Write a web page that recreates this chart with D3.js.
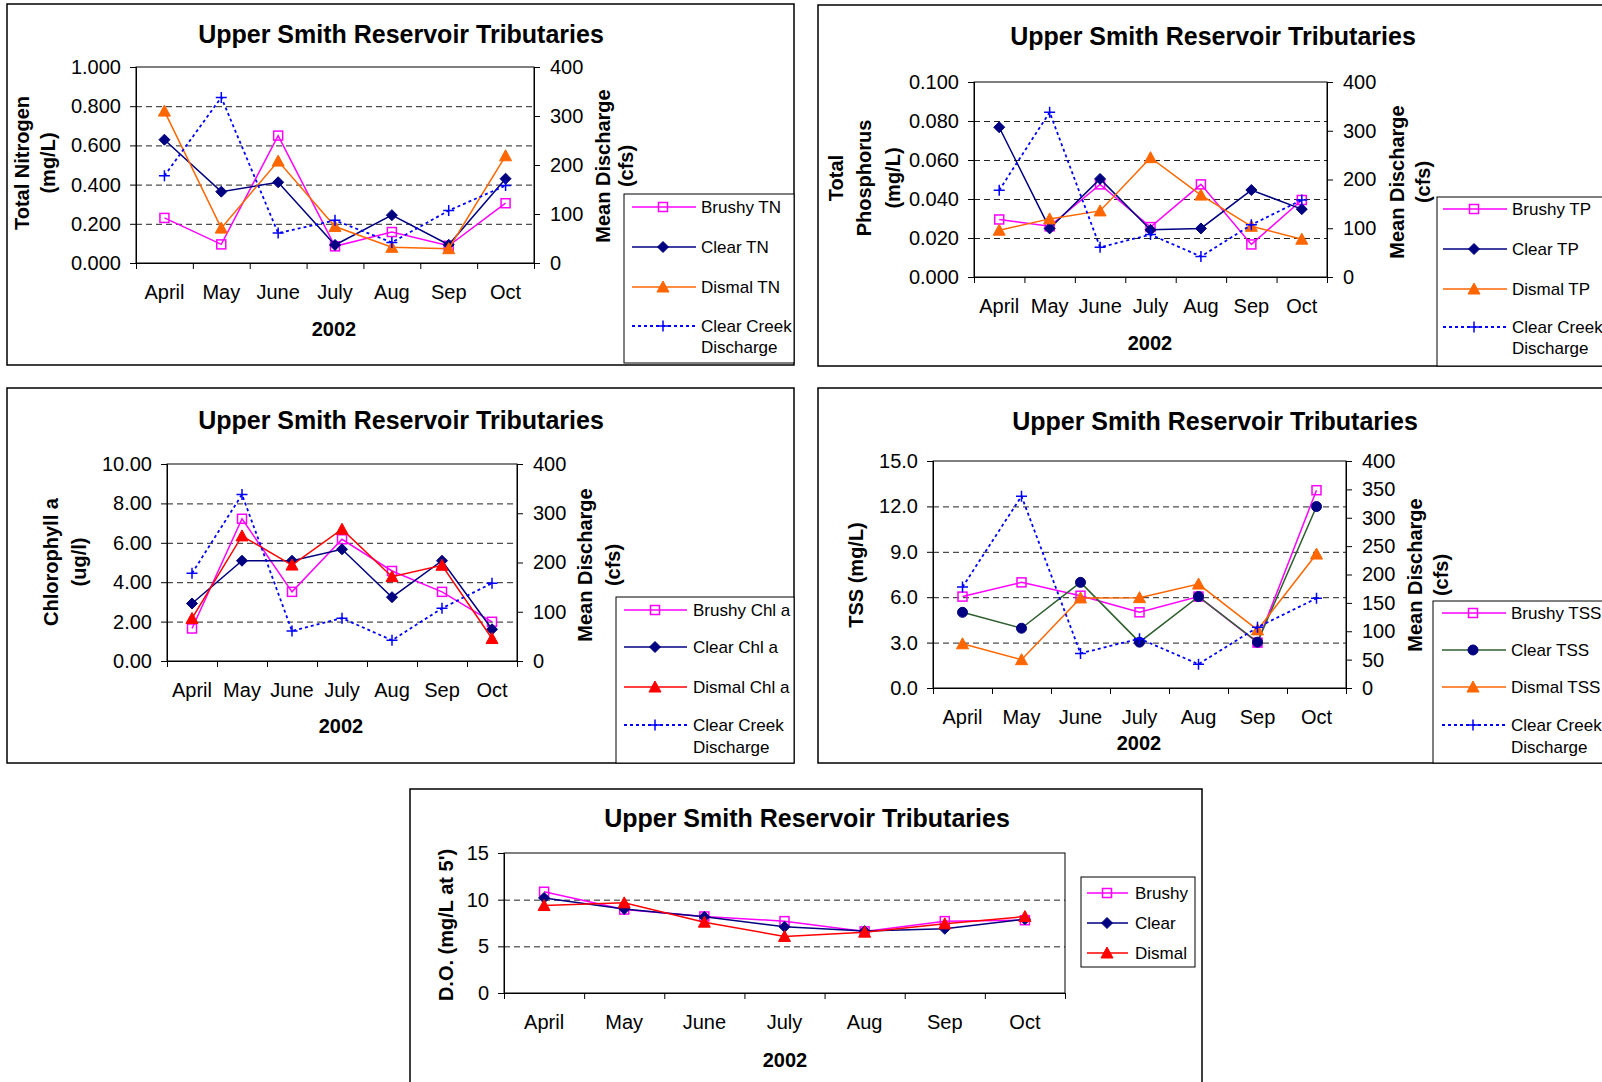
<!DOCTYPE html>
<html>
<head>
<meta charset="utf-8">
<script src="https://cdn.jsdelivr.net/npm/d3@7"></script>
<style>
  body { margin: 0; background: #fff; }
  svg text { font-family: Arial, "Liberation Sans", sans-serif; fill: #000; }
</style>
</head>
<body>
<div id="chart"></div>
<script>
// categories
const months = ["April", "May", "June", "July", "Aug", "Sep", "Oct"];

// Clear Creek mean discharge (cfs), shared by the first four charts
const discharge = [178, 338, 61, 87, 42, 107, 158];

// Total nitrogen (mg/L)
const brushyTN = [0.23, 0.095, 0.65, 0.085, 0.158, 0.088, 0.305];
const clearTN = [0.629, 0.364, 0.412, 0.092, 0.244, 0.093, 0.43];
const dismalTN = [0.775, 0.178, 0.52, 0.186, 0.08, 0.073, 0.547];

// Total phosphorus (mg/L)
const brushyTP = [0.0295, 0.026, 0.0475, 0.0256, 0.0475, 0.0167, 0.0395];
const clearTP = [0.0768, 0.0249, 0.0503, 0.0242, 0.0249, 0.0446, 0.0348];
const dismalTP = [0.024, 0.0298, 0.0339, 0.0612, 0.042, 0.026, 0.0194];

// Chlorophyll a (ug/l)
const brushyChl = [1.65, 7.22, 3.51, 6.18, 4.57, 3.51, 1.99];
const clearChl = [2.92, 5.09, 5.09, 5.67, 3.24, 5.09, 1.61];
const dismalChl = [2.16, 6.35, 4.87, 6.69, 4.28, 4.86, 1.14];

// TSS (mg/L)
const brushyTSS = [6.04, 6.98, 6.1, 5.0, 6.04, 3.0, 13.07];
const clearTSS = [5.0, 3.95, 6.98, 3.03, 6.04, 3.03, 11.99];
const dismalTSS = [2.92, 1.87, 5.95, 5.97, 6.87, 3.84, 8.85];

// D.O. (mg/L at 5')
const brushyDO = [10.85, 8.94, 8.2, 7.7, 6.6, 7.7, 7.8];
const clearDO = [10.19, 9.01, 8.16, 7.09, 6.63, 6.88, 7.91];
const dismalDO = [9.37, 9.66, 7.59, 6.06, 6.52, 7.41, 8.19];

const title = "Upper Smith Reservoir Tributaries";

const svg = d3.select('#chart').append('svg')
  .attr('width', 1602)
  .attr('height', 1082);

// marker shapes
const markers = {
  square: g => g.append('rect').attr('x', -4.5).attr('y', -4.5).attr('width', 9).attr('height', 9)
    .attr('fill', 'none').attr('stroke-width', 1.5),
  diamond: g => g.append('path').attr('d', 'M0,-5.5L5.5,0L0,5.5L-5.5,0Z'),
  triangle: g => g.append('path').attr('d', 'M0,-6L6,5L-6,5Z'),
  circle: g => g.append('circle').attr('r', 5),
  plus: g => g.append('path').attr('d', 'M-5.5,0H5.5M0,-5.5V5.5').attr('fill', 'none').attr('stroke-width', 1.5)
};

class Panel {

  constructor(opts) {
    Object.assign(this, opts);
    this.draw();
  }

  draw() {
    this.g = svg.append('g');
    this.g.append('rect')
      .attr('x', this.box[0]).attr('y', this.box[1])
      .attr('width', this.box[2] - this.box[0]).attr('height', this.box[3] - this.box[1])
      .attr('fill', '#fff').attr('stroke', '#000').attr('stroke-width', 1.5);

    this.createScales();
    this.addGrid();
    this.addAxes();
    this.addTitles();
    this.addLines();
    this.addLegend();
  }

  createScales() {
    const p = this.plot;
    this.xScale = d3.scaleBand().domain(months).range([p.l, p.r]);
    this.xEdge = d3.scaleLinear().domain([0, months.length]).range([p.l, p.r]);
    this.yScale = d3.scaleLinear().domain(this.left.domain).range([p.b, p.t]);
    if (this.right) {
      this.y2Scale = d3.scaleLinear().domain(this.right.domain).range([p.b, p.t]);
    }
  }

  addGrid() {
    const p = this.plot;
    const grid = this.g.append('g')
      .attr('transform', `translate(${p.l},0)`)
      .call(d3.axisLeft(this.yScale)
        .tickValues(this.left.ticks.slice(1, -1))
        .tickSize(-(p.r - p.l))
        .tickFormat(''));
    grid.select('.domain').remove();
    grid.selectAll('line')
      .attr('stroke', '#222')
      .attr('stroke-dasharray', '6,4');

    this.g.append('rect')
      .attr('x', p.l).attr('y', p.t)
      .attr('width', p.r - p.l).attr('height', p.b - p.t)
      .attr('fill', 'none').attr('stroke', '#000').attr('stroke-width', 1);
  }

  addAxes() {
    const p = this.plot;

    const yAxis = this.g.append('g')
      .attr('transform', `translate(${p.l},0)`)
      .call(d3.axisLeft(this.yScale)
        .tickValues(this.left.ticks)
        .tickSize(6).tickPadding(9)
        .tickFormat(d3.format(this.left.format)));
    this.styleAxis(yAxis);

    if (this.right) {
      const y2Axis = this.g.append('g')
        .attr('transform', `translate(${p.r},0)`)
        .call(d3.axisRight(this.y2Scale)
          .tickValues(this.right.ticks)
          .tickSize(6).tickPadding(10)
          .tickFormat(d3.format('d')));
      this.styleAxis(y2Axis);
    }

    // tick marks between the months
    const edges = this.g.append('g')
      .attr('transform', `translate(0,${p.b})`)
      .call(d3.axisBottom(this.xEdge)
        .tickValues(d3.range(months.length + 1))
        .tickSize(6).tickFormat(''));
    this.styleAxis(edges);

    const xAxis = this.g.append('g')
      .attr('transform', `translate(0,${p.b})`)
      .call(d3.axisBottom(this.xScale).tickSize(0).tickPadding(22));
    xAxis.select('.domain').remove();
    xAxis.selectAll('text').attr('font-size', 20).attr('font-family', 'Arial, "Liberation Sans", sans-serif');
  }

  styleAxis(axis) {
    axis.select('.domain').attr('stroke', '#000');
    axis.selectAll('line').attr('stroke', '#000');
    axis.selectAll('text').attr('font-size', 20).attr('font-family', 'Arial, "Liberation Sans", sans-serif');
  }

  addTitles() {
    this.g.append('text')
      .attr('x', this.titleX).attr('y', this.titleY)
      .attr('dy', '0.35em')
      .attr('text-anchor', 'middle')
      .attr('font-size', 25).attr('font-weight', 'bold')
      .text(title);

    this.rotated(this.left.title, this.left.titleX, this.left.titleY);
    if (this.right) this.rotated(this.right.title, this.right.titleX, this.right.titleY);

    this.g.append('text')
      .attr('x', this.yearX).attr('y', this.yearY)
      .attr('dy', '0.35em')
      .attr('text-anchor', 'middle')
      .attr('font-size', 20).attr('font-weight', 'bold')
      .text('2002');
  }

  rotated(lines, xs, cy) {
    lines.forEach((line, i) => {
      this.g.append('text')
        .attr('transform', `translate(${xs[i]},${cy}) rotate(-90)`)
        .attr('dy', '0.35em')
        .attr('text-anchor', 'middle')
        .attr('font-size', 20).attr('font-weight', 'bold')
        .text(line);
    });
  }

  addLines() {
    this.series.forEach(s => {
      const yS = s.axis === 'right' ? this.y2Scale : this.yScale;
      const line = d3.line()
        .x((d, i) => this.xScale(months[i]) + this.xScale.bandwidth() / 2)
        .y(d => yS(d));

      this.g.append('path')
        .datum(s.values)
        .attr('d', line)
        .attr('fill', 'none')
        .attr('stroke', s.lineColor || s.color)
        .attr('stroke-width', s.dash ? 1.8 : 1.5)
        .attr('stroke-dasharray', s.dash || null);

      s.values.forEach((v, i) => {
        const m = this.g.append('g')
          .attr('transform', `translate(${this.xScale(months[i]) + this.xScale.bandwidth() / 2},${yS(v)})`)
          .attr('fill', s.color).attr('stroke', s.color);
        markers[s.marker](m);
      });
    });
  }

  addLegend() {
    const L = this.legend;
    this.g.append('rect')
      .attr('x', L.box[0]).attr('y', L.box[1])
      .attr('width', L.box[2] - L.box[0]).attr('height', L.box[3] - L.box[1])
      .attr('fill', '#fff').attr('stroke', '#000').attr('stroke-width', 1);

    this.series.forEach((s, i) => {
      const y = L.rows[i];
      this.g.append('line')
        .attr('x1', L.x0).attr('x2', L.x1).attr('y1', y).attr('y2', y)
        .attr('stroke', s.lineColor || s.color)
        .attr('stroke-width', s.dash ? 1.8 : 1.5)
        .attr('stroke-dasharray', s.dash || null);
      const m = this.g.append('g')
        .attr('transform', `translate(${L.xm},${y})`)
        .attr('fill', s.color).attr('stroke', s.color);
      markers[s.marker](m);
      s.label.forEach((t, k) => {
        this.g.append('text')
          .attr('x', L.xt).attr('y', y + k * L.lineGap)
          .attr('dy', '0.35em')
          .attr('font-size', 17)
          .text(t);
      });
    });
  }
}

const flow = () => ({ label: ["Clear Creek", "Discharge"], values: discharge, color: '#0000FF', marker: 'plus', dash: '3,3', axis: 'right' });

// Total nitrogen
new Panel({
  box: [7, 4, 794, 365],
  plot: { l: 136, t: 67, r: 534, b: 263 },
  titleX: 401, titleY: 34,
  yearX: 334, yearY: 329,
  left: { domain: [0, 1], ticks: d3.range(0, 1.01, 0.2), format: '.3f',
          title: ["Total Nitrogen", "(mg/L)"], titleX: [22, 48], titleY: 163 },
  right: { domain: [0, 400], ticks: d3.range(0, 401, 100),
           title: ["Mean Discharge", "(cfs)"], titleX: [603, 626], titleY: 166 },
  series: [
    { label: ["Brushy TN"], values: brushyTN, color: '#FF00FF', marker: 'square' },
    { label: ["Clear TN"], values: clearTN, color: '#000080', marker: 'diamond' },
    { label: ["Dismal TN"], values: dismalTN, color: '#FF6600', marker: 'triangle' },
    flow()
  ],
  legend: { box: [624, 194, 794, 363], x0: 632, x1: 696, xm: 663, xt: 701, rows: [207, 247, 287, 326], lineGap: 21 }
});

// Total phosphorus
new Panel({
  box: [818, 5, 1610, 366],
  plot: { l: 974, t: 82, r: 1327, b: 277 },
  titleX: 1213, titleY: 36,
  yearX: 1150, yearY: 343,
  left: { domain: [0, 0.1], ticks: d3.range(0, 0.1001, 0.02), format: '.3f',
          title: ["Total", "Phosphorus", "(mg/L)"], titleX: [836, 864, 893], titleY: 178 },
  right: { domain: [0, 400], ticks: d3.range(0, 401, 100),
           title: ["Mean Discharge", "(cfs)"], titleX: [1397, 1423], titleY: 182 },
  series: [
    { label: ["Brushy TP"], values: brushyTP, color: '#FF00FF', marker: 'square' },
    { label: ["Clear TP"], values: clearTP, color: '#000080', marker: 'diamond' },
    { label: ["Dismal TP"], values: dismalTP, color: '#FF6600', marker: 'triangle' },
    flow()
  ],
  legend: { box: [1437, 197, 1610, 366], x0: 1443, x1: 1507, xm: 1474, xt: 1512, rows: [209, 249, 289, 327], lineGap: 21 }
});

// Chlorophyll a
new Panel({
  box: [7, 388, 794, 763],
  plot: { l: 167, t: 464, r: 517, b: 661 },
  titleX: 401, titleY: 420,
  yearX: 341, yearY: 726,
  left: { domain: [0, 10], ticks: d3.range(0, 10.01, 2), format: '.2f',
          title: ["Chlorophyll a", "(ug/l)"], titleX: [51, 79], titleY: 562 },
  right: { domain: [0, 400], ticks: d3.range(0, 401, 100),
           title: ["Mean Discharge", "(cfs)"], titleX: [585, 613], titleY: 565 },
  series: [
    { label: ["Brushy Chl a"], values: brushyChl, color: '#FF00FF', marker: 'square' },
    { label: ["Clear Chl a"], values: clearChl, color: '#000080', marker: 'diamond' },
    { label: ["Dismal Chl a"], values: dismalChl, color: '#FF0000', marker: 'triangle' },
    flow()
  ],
  legend: { box: [616, 597, 794, 763], x0: 624, x1: 687, xm: 655, xt: 693, rows: [610, 647, 687, 725], lineGap: 22 }
});

// TSS
new Panel({
  box: [818, 388, 1610, 763],
  plot: { l: 933, t: 461, r: 1346, b: 688 },
  titleX: 1215, titleY: 421,
  yearX: 1139, yearY: 743,
  left: { domain: [0, 15], ticks: d3.range(0, 15.01, 3), format: '.1f',
          title: ["TSS (mg/L)"], titleX: [856], titleY: 575 },
  right: { domain: [0, 400], ticks: d3.range(0, 401, 50),
           title: ["Mean Discharge", "(cfs)"], titleX: [1415, 1441], titleY: 575 },
  series: [
    { label: ["Brushy TSS"], values: brushyTSS, color: '#FF00FF', marker: 'square' },
    { label: ["Clear TSS"], values: clearTSS, color: '#000080', lineColor: '#2F5F2F', marker: 'circle' },
    { label: ["Dismal TSS"], values: dismalTSS, color: '#FF6600', marker: 'triangle' },
    flow()
  ],
  legend: { box: [1433, 601, 1610, 763], x0: 1442, x1: 1506, xm: 1473, xt: 1511, rows: [613, 650, 687, 725], lineGap: 22 }
});

// Dissolved oxygen
new Panel({
  box: [410, 789, 1202, 1090],
  plot: { l: 504, t: 853, r: 1065, b: 993 },
  titleX: 807, titleY: 818,
  yearX: 785, yearY: 1060,
  left: { domain: [0, 15], ticks: d3.range(0, 15.01, 5), format: 'd',
          title: ["D.O. (mg/L at 5')"], titleX: [446], titleY: 925 },
  series: [
    { label: ["Brushy"], values: brushyDO, color: '#FF00FF', marker: 'square' },
    { label: ["Clear"], values: clearDO, color: '#000080', marker: 'diamond' },
    { label: ["Dismal"], values: dismalDO, color: '#FF0000', marker: 'triangle' }
  ],
  legend: { box: [1081, 877, 1195, 967], x0: 1087, x1: 1128, xm: 1107, xt: 1135, rows: [893, 923, 953], lineGap: 0 }
});
</script>
</body>
</html>
